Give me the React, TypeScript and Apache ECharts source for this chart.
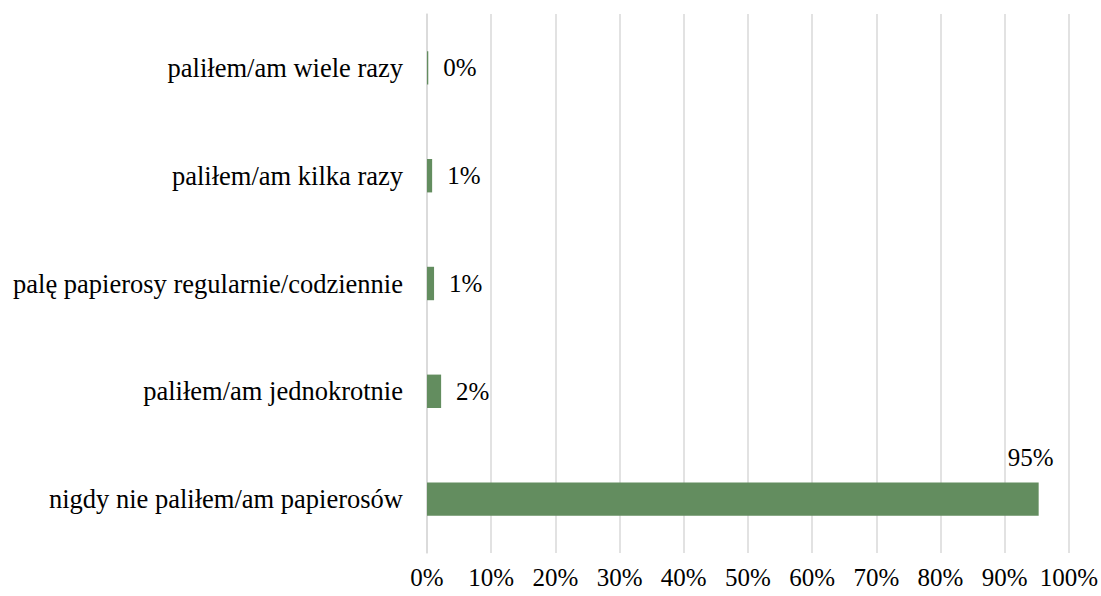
import React, { useEffect, useRef } from "react";
import * as echarts from "echarts";

const categories = [
  "nigdy nie paliłem/am papierosów",
  "paliłem/am jednokrotnie",
  "palę papierosy regularnie/codziennie",
  "paliłem/am kilka razy",
  "paliłem/am wiele razy",
];
const values = [95.3, 2.2, 1.1, 0.8, 0.2];
const labels = ["95%", "2%", "1%", "1%", "0%"];
const xTicks = [0, 10, 20, 30, 40, 50, 60, 70, 80, 90, 100];

const FONT = "Times New Roman, Liberation Serif, DejaVu Serif, serif";
const BAR = "#638d5f";

export default function App() {
  const ref = useRef<HTMLDivElement>(null);
  useEffect(() => {
    const chart = echarts.init(ref.current!, null, { renderer: "svg" });
    chart.setOption({
      animation: false,
      textStyle: { fontFamily: FONT },
      grid: { left: 427, right: 32, top: 14, bottom: 43, containLabel: false },
      xAxis: {
        type: "value",
        min: xTicks[0],
        max: xTicks[xTicks.length - 1],
        interval: 10,
        axisLine: { show: false },
        axisTick: { show: false },
        splitLine: { show: true, lineStyle: { color: "#d9d9d9", width: 1.5 } },
        axisLabel: {
          formatter: "{value}%",
          color: "#000",
          fontFamily: FONT,
          fontSize: 25,
          margin: 12,
        },
      },
      yAxis: {
        type: "category",
        data: categories,
        axisLine: { show: true, lineStyle: { color: "#d9d9d9", width: 1.5 } },
        axisTick: { show: false },
        axisLabel: {
          color: "#000",
          fontFamily: FONT,
          fontSize: 26.5,
          margin: 24,
        },
      },
      series: [
        {
          type: "bar",
          barWidth: "31%",
          itemStyle: { color: BAR },
          data: values.map((v, i) => {
            const item: any = { value: v };
            if (i === 0) {
              item.label = {
                show: true,
                position: ["100%", 0],
                align: "center",
                verticalAlign: "bottom",
                offset: [-8, -12],
                formatter: labels[i],
                color: "#000",
                fontFamily: FONT,
                fontSize: 25,
              };
            } else {
              item.label = {
                show: true,
                position: "right",
                distance: 15,
                formatter: labels[i],
                color: "#000",
                fontFamily: FONT,
                fontSize: 25,
              };
            }
            return item;
          }),
        },
      ],
    });
    return () => chart.dispose();
  }, []);
  return (
    <div
      ref={ref}
      style={{ position: "fixed", left: 0, top: 0, width: 1101, height: 596, background: "#fff" }}
    />
  );
}
